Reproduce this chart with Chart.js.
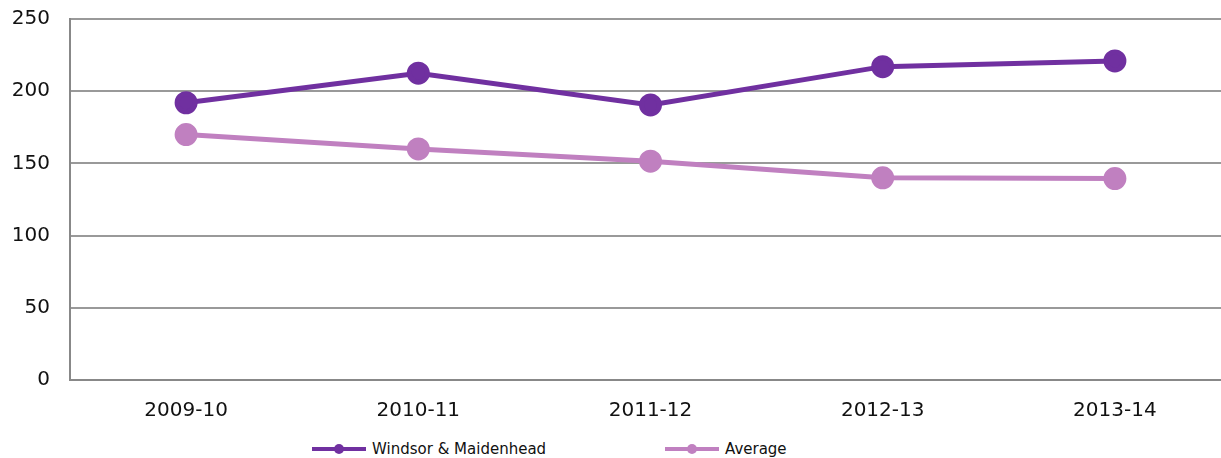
<!DOCTYPE html>
<html>
<head>
<meta charset="utf-8">
<script src="https://cdn.jsdelivr.net/npm/chart.js@4"></script>
<style>
  html, body { margin: 0; padding: 0; background: #fff; overflow: hidden; }
  #wrap { width: 1221px; height: 458px; position: relative; overflow: hidden; }
  #legend {
    position: absolute; left: 0; top: 440px; width: 1221px; height: 18px;
    font: 15px 'DejaVu Sans', Verdana, sans-serif; color: #111;
  }
  .item { position: absolute; top: 0; display: flex; align-items: center; height: 18px; }
  .icon { width: 54px; height: 12px; margin-right: 6px; }
</style>
</head>
<body>
<div id="wrap">
  <!-- the original plot runs a little past the right edge of the picture -->
  <canvas id="chart" width="1231" height="436"></canvas>
  <div id="legend"></div>
</div>
<script>
const years = ["2009-10", "2010-11", "2011-12", "2012-13", "2013-14"];
const windsor = [192, 212.5, 190.5, 217, 221];
const average = [170, 160, 151.5, 140, 139.5];
const yTicks = [0, 50, 100, 150, 200, 250];

const dark = "#7030A0";
const light = "#C080C0";

Chart.defaults.font.family = "'DejaVu Sans', Verdana, sans-serif";
Chart.defaults.color = "#111";

const chart = new Chart(document.getElementById("chart"), {
  type: "line",
  data: {
    labels: years,
    datasets: [
      {
        label: "Windsor & Maidenhead",
        data: windsor,
        borderColor: dark,
        backgroundColor: dark,
        borderWidth: 5,
        pointRadius: 9,
        pointHoverRadius: 9,
        tension: 0,
      },
      {
        label: "Average",
        data: average,
        borderColor: light,
        backgroundColor: light,
        borderWidth: 5,
        pointRadius: 9,
        pointHoverRadius: 9,
        tension: 0,
      },
    ],
  },
  options: {
    responsive: false,
    animation: false,
    layout: { autoPadding: false, padding: { top: 19, right: 0, left: 0, bottom: 0 } },
    plugins: {
      tooltip: { enabled: false },
      legend: { display: false },
    },
    scales: {
      x: {
        offset: true,
        grid: { display: false, drawTicks: false },
        border: { color: "#888", width: 2 },
        ticks: { font: { size: 20 }, padding: 19, maxRotation: 0 },
        afterFit: (axis) => {
          axis.paddingLeft = 0;
          axis.paddingRight = 0;
          axis.height = 56;
        },
      },
      y: {
        min: 0,
        max: 250,
        afterBuildTicks: (axis) => { axis.ticks = yTicks.map((v) => ({ value: v })); },
        afterFit: (axis) => {
          axis.width = 70;
          axis.paddingTop = 0;
          axis.paddingBottom = 0;
        },
        grid: { color: "#999", lineWidth: 2, drawTicks: false },
        border: { color: "#888", width: 2 },
        ticks: { font: { size: 20 }, padding: 20 },
      },
    },
  },
});

// legend drawn as HTML under the canvas, same look as the original
const legendPos = [312, 665];
chart.data.datasets.forEach((ds, i) => {
  const item = document.createElement("div");
  item.className = "item";
  item.style.left = legendPos[i] + "px";
  const c = document.createElement("canvas");
  c.className = "icon";
  c.width = 54;
  c.height = 12;
  const g = c.getContext("2d");
  g.strokeStyle = ds.borderColor;
  g.lineWidth = 4;
  g.beginPath();
  g.moveTo(0, 6);
  g.lineTo(54, 6);
  g.stroke();
  g.fillStyle = ds.borderColor;
  g.beginPath();
  g.arc(27, 6, 5, 0, Math.PI * 2);
  g.fill();
  item.appendChild(c);
  const t = document.createElement("span");
  t.textContent = ds.label;
  item.appendChild(t);
  document.getElementById("legend").appendChild(item);
});
</script>
</body>
</html>
